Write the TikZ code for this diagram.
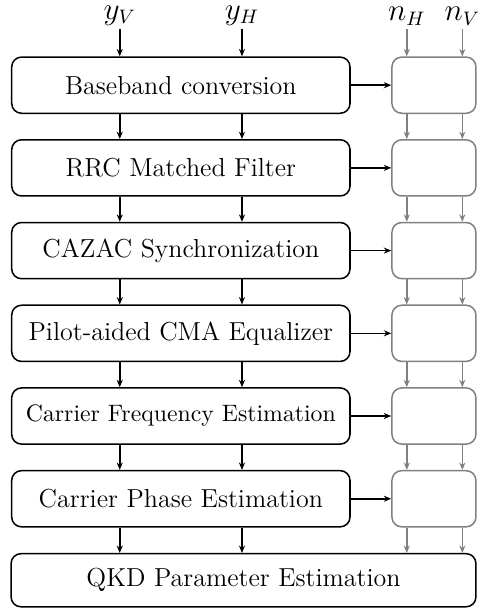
\documentclass[tikz,border=0pt]{standalone}
\usepackage{amsmath}
\usepackage{tikz}
\usetikzlibrary{arrows.meta}

\tikzset{
    block/.style={draw, rounded corners=4.5pt, line width=0.7pt, minimum width=5.48cm, minimum height=0.91cm, inner sep=0pt, font=\large},
    gblock/.style={block, draw=gray, minimum width=1.36cm},
    arr/.style={-{Stealth[length=3.4pt, width=2.8pt]}, line width=0.7pt},
    garr/.style={arr, gray},
    sig/.style={above, inner sep=1.5pt, font=\fontsize{13.5}{16}\selectfont},
}

\begin{document}
\begin{tikzpicture}
    \useasboundingbox (0,0) rectangle (7.73,-9.85);

    % Input signals
    \coordinate (yV) at (1.94,-0.47);
    \coordinate (yH) at (3.92,-0.47);
    \coordinate (nH) at (6.59,-0.47);
    \coordinate (nV) at (7.49,-0.47);
    \node[sig] (lyV) at (yV) {$y_V$};
    \node[sig] (lyH) at (yH) {$y_H$};
    \node[sig] (lnH) at (nH) {$n_H$};
    \node[sig] (lnV) at (nV) {$n_V$};

    % DSP chain and side blocks
    \foreach \name/\txt [count=\i] in {bb/Baseband conversion, rrc/RRC Matched Filter, sync/CAZAC Synchronization, cma/Pilot-aided CMA Equalizer, cfe/{\fontsize{10.95}{13}\selectfont Carrier Frequency Estimation}, cpe/Carrier Phase Estimation} {
        \node[block] (\name) at (2.93,{-1.38-1.34*(\i-1)}) {\txt};
        \node[gblock] (g\i) at (7.03,{-1.38-1.34*(\i-1)}) {};
        \draw[arr] (\name) -- (g\i);
    }

    % Final block
    \node[block, minimum width=7.53cm, minimum height=0.86cm] (qkd) at (3.945,-9.40) {QKD Parameter Estimation};

    % Vertical connections
    \foreach \c in {yV,yH} {
        \draw[arr] (\c) -- (\c |- bb.north);
        \foreach \a/\b in {bb/rrc, rrc/sync, sync/cma, cma/cfe, cfe/cpe, cpe/qkd}
            \draw[arr] (\c |- \a.south) -- (\c |- \b.north);
    }
    \foreach \c in {nH,nV} {
        \draw[garr] (\c) -- (\c |- g1.north);
        \foreach \a/\b in {g1/g2, g2/g3, g3/g4, g4/g5, g5/g6, g6/qkd}
            \draw[garr] (\c |- \a.south) -- (\c |- \b.north);
    }
\end{tikzpicture}
\end{document}
